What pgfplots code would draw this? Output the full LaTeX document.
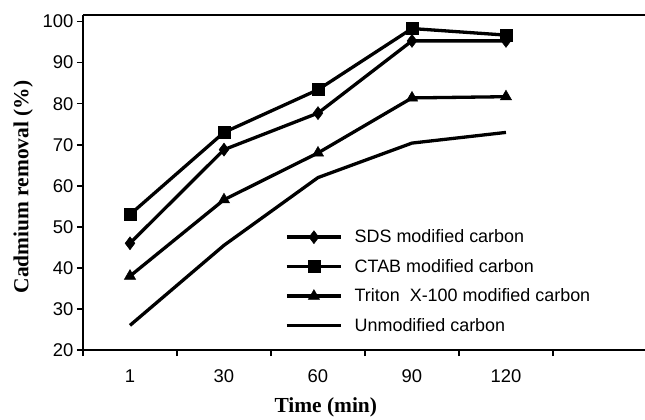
\documentclass[border=0pt]{standalone}
\usepackage{fontspec}
\setmainfont{Liberation Sans}
\newfontfamily\serifb{Liberation Serif}
\usepackage{pgfplots}
\pgfplotsset{compat=1.18}
\begin{document}
\begin{tikzpicture}
\begin{axis}[
  name=ax,
  scale only axis,
  width=562bp, height=335bp,
  xmin=0.5, xmax=6.479,
  ymin=20, ymax=101.6,
  axis lines*=left,
  axis line style={line width=2bp, -},
  xtick={1,2,3,4,5},
  xticklabels={1,30,60,90,120},
  major x tick style={draw=none},
  minor xtick={0.5,1.5,2.5,3.5,4.5,5.5},
  minor x tick style={line width=1.6bp, black},
  ytick={20,30,...,100},
  major y tick style={line width=1.6bp, black},
  tick align=outside,
  major tick length=6bp,
  minor tick length=6bp,
  xticklabel style={font=\fontsize{18.5}{21}\selectfont, yshift=-10bp},
  yticklabel style={font=\fontsize{18.5}{21}\selectfont},
  /pgf/number format/assume math mode=true,
  xlabel={\serifb\bfseries Time (min)},
  ylabel={\serifb\bfseries Cadmium removal (\%)},
  xlabel style={font=\fontsize{21.5}{25}\selectfont, at={(rel axis cs:0.432,-0.170)}, anchor=center},
  ylabel style={font=\fontsize{21.5}{25}\selectfont, at={(rel axis cs:-0.1065,0.4866)}, anchor=center, rotate=0},
  legend cell align=left,
  legend style={draw=none, fill=none, at={(rel axis cs:0.3594,0.359)}, anchor=north west,
    font=\fontsize{18}{21}\selectfont, row sep=15bp, column sep=12bp, inner sep=0pt,
    nodes={inner sep=0pt}},
  legend image code/.code={%
    \path[draw=none,fill=none] (0bp,-6bp) rectangle (54bp,6bp);
    \draw[line width=3.5bp] (0bp,0bp) -- (54bp,0bp);
    \draw[mark repeat=2,mark phase=2] plot coordinates {(0bp,0bp)(27bp,0bp)(54bp,0bp)};},
  every axis plot/.append style={line width=3.3bp, black},
  clip=false,
]
\addplot[mark=diamond*, mark size=6.5bp, mark options={solid, line width=0.5bp}] coordinates {(1,46) (2,68.8) (3,77.7) (4,95.3) (5,95.3)};
\addlegendentry{SDS modified carbon}
\addplot[mark=square*, mark size=6bp, mark options={solid, line width=0.5bp}] coordinates {(1,53) (2,73) (3,83.4) (4,98.3) (5,96.7)};
\addlegendentry{CTAB modified carbon}
\addplot[mark=triangle*, mark size=6.5bp, mark options={solid, line width=0.5bp}] coordinates {(1,38) (2,56.6) (3,68) (4,81.4) (5,81.7)};
\addlegendentry{Triton\ \ X-100 modified carbon}
\addplot[no marks] coordinates {(1,26) (2,45.5) (3,62) (4,70.4) (5,73)};
\addlegendentry{Unmodified carbon}
\draw[line width=2bp] (rel axis cs:0,1) -- (rel axis cs:1,1);
\end{axis}
\pgfresetboundingbox
\path[use as bounding box] ([xshift=-83bp,yshift=-70bp]ax.south west) rectangle ++(645bp,420bp);
\end{tikzpicture}
\end{document}
